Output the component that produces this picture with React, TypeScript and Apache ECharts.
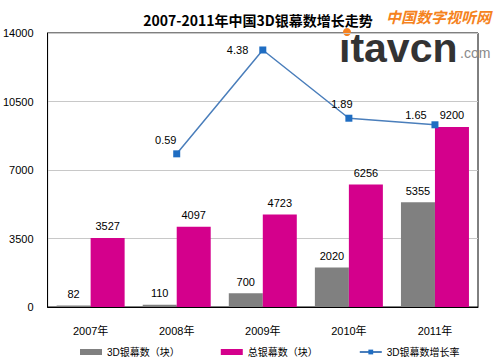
import React, { useEffect, useRef } from "react";
import * as echarts from "echarts";

const categories = ["2007年", "2008年", "2009年", "2010年", "2011年"];
const screens3D = [82, 110, 700, 2020, 5355];
const totalScreens = [3527, 4097, 4723, 6256, 9200];
const growthRate: (number | null)[] = [null, 0.59, 4.38, 1.89, 1.65];
const rateLabelOffsets: [number, number][] = [[0, 0], [-11, 0], [-6, 0], [-7, 0], [-19, 4]];
const rateLabelPositions = ["top", "top", "left", "top", "top"];

const TITLE = "2007-2011年中国3D银幕数增长走势";
const FONT = "'Liberation Sans', 'Noto Sans CJK SC', sans-serif";
const CJK = "'Noto Sans CJK SC', sans-serif";

export default function App() {
  const ref = useRef<HTMLDivElement>(null);
  useEffect(() => {
    if (!ref.current) return;
    const chart = echarts.init(ref.current, null, { renderer: "svg" });
    chart.setOption({
      animation: false,
      backgroundColor: "#fff",
      title: {
        text: TITLE,
        left: 253,
        textAlign: "center",
        top: 8,
        textStyle: { fontFamily: CJK, fontSize: 14, fontWeight: "bold", color: "#000" },
      },
      grid: {
        left: 47,
        right: 22,
        top: 33,
        bottom: 56,
        show: true,
        borderColor: "#000",
        borderWidth: 1,
        backgroundColor: "transparent",
      },
      legend: {
        left: 80,
        top: 347,
        padding: 0,
        width: 420,
        itemGap: 41,
        itemWidth: 22,
        itemHeight: 6,
        textStyle: { fontFamily: FONT, fontSize: 10, color: "#000" },
        data: [
          { name: "3D银幕数（块）", icon: "rect" },
          { name: "总银幕数（块）", icon: "rect" },
          { name: "3D银幕数增长率" },
        ],
      },
      xAxis: {
        type: "category",
        data: categories,
        axisLine: { show: true, lineStyle: { color: "#000" } },
        axisTick: { show: false },
        axisLabel: { fontFamily: FONT, fontSize: 11, color: "#000", margin: 18 },
      },
      yAxis: [
        {
          type: "value",
          min: 0,
          max: 14000,
          interval: 3500,
          axisLine: { show: true, lineStyle: { color: "#000" } },
          axisTick: { show: false },
          axisLabel: {
            fontFamily: FONT,
            fontSize: 11,
            color: "#000",
            margin: 14,
            formatter: (v: number) => String(v),
          },
          splitLine: { lineStyle: { color: "#c8c8c8" } },
        },
        {
          type: "value",
          min: -5,
          max: 5,
          show: false,
          splitLine: { show: false },
        },
      ],
      series: [
        {
          name: "3D银幕数（块）",
          type: "bar",
          data: screens3D,
          barWidth: 34,
          barGap: "0%",
          itemStyle: { color: "#808080" },
          label: { show: true, position: "top", distance: 6, fontFamily: FONT, fontSize: 11, color: "#000" },
        },
        {
          name: "总银幕数（块）",
          type: "bar",
          data: totalScreens,
          barWidth: 34,
          barGap: "0%",
          itemStyle: { color: "#d4008c" },
          label: { show: true, position: "top", distance: 6, fontFamily: FONT, fontSize: 11, color: "#000" },
        },
        {
          name: "3D银幕数增长率",
          type: "line",
          yAxisIndex: 1,
          data: growthRate.map((v, i) => ({
            value: v,
            label: { position: rateLabelPositions[i], offset: rateLabelOffsets[i] },
          })),
          symbol: "rect",
          symbolSize: 7,
          lineStyle: { color: "#4a7ebb", width: 1.5 },
          itemStyle: { color: "#1f6dc2" },
          label: { show: true, distance: 5, fontFamily: FONT, fontSize: 11, color: "#000" },
        },
      ],
      graphic: [
        {
          type: "text",
          x: 386,
          y: 9,
          style: {
            text: "中国数字视听网",
            fontFamily: CJK,
            fontSize: 15,
            fontWeight: "bold",
            fontStyle: "italic",
            fill: "#f58220",
          },
        },
        {
          type: "text",
          x: 339,
          y: 27,
          style: {
            text: "ıtavcn",
            fontFamily: "'Liberation Sans', sans-serif",
            fontSize: 41,
            fontWeight: "bold",
            fill: "#333333",
          },
        },
        {
          type: "circle",
          shape: { cx: 347, cy: 32, r: 4 },
          style: { fill: "#f58220" },
        },
        {
          type: "text",
          x: 460,
          y: 46,
          style: {
            text: ".com",
            fontFamily: "'Liberation Sans', sans-serif",
            fontSize: 14,
            fill: "#8a8a8a",
          },
        },
      ],
    });
    return () => chart.dispose();
  }, []);
  return <div ref={ref} style={{ position: "fixed", left: 0, top: 0, width: 500, height: 363 }} />;
}
